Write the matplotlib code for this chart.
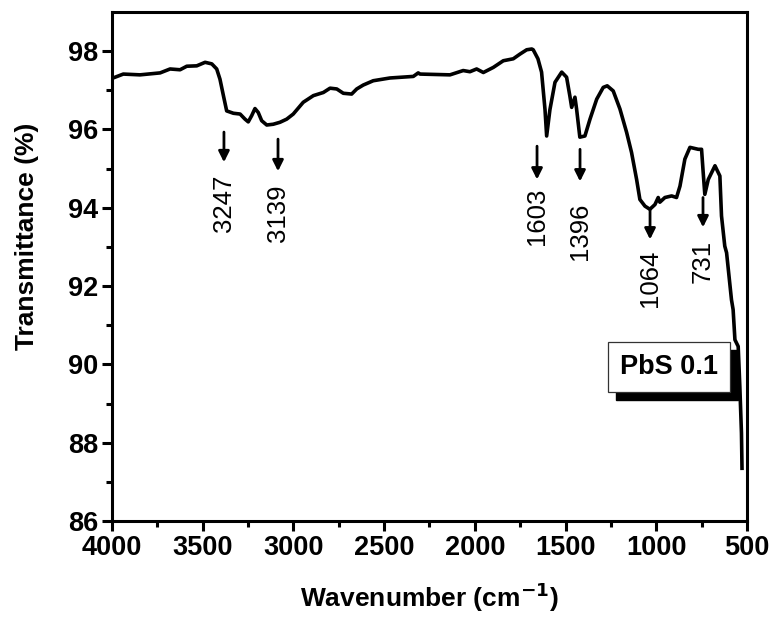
import matplotlib.pyplot as plt
from matplotlib.patches import Rectangle

plt.rcParams["font.family"] = ["Liberation Sans", "DejaVu Sans"]

# FTIR spectrum of PbS 0.1 sample, read as (wavenumber, transmittance) pairs
wavenumber = [
    4000, 3983, 3938, 3846, 3735, 3680, 3625, 3588, 3533, 3487, 3450, 3423,
    3405, 3386, 3368, 3331, 3294, 3267, 3249, 3230, 3212, 3194, 3175, 3147,
    3111, 3074, 3037, 3001, 2946, 2890, 2835, 2798, 2761, 2725, 2679, 2651,
    2615, 2560, 2468, 2339, 2312, 2302, 2137, 2064, 2027, 1990, 1953, 1898,
    1843, 1788, 1751, 1714, 1686, 1678, 1652, 1632, 1613, 1604, 1586, 1558,
    1521, 1494, 1476, 1466, 1448, 1439, 1421, 1393, 1365, 1328, 1292, 1270,
    1237, 1200, 1163, 1136, 1108, 1090, 1062, 1035, 1007, 989, 980, 952,
    915, 888, 869, 842, 814, 768, 750, 741, 732, 713, 676, 649,
    640, 622, 612, 585, 576, 566, 548, 539, 530, 527,
]
transmittance = [
    97.30, 97.33, 97.41, 97.39, 97.44, 97.54, 97.52, 97.61, 97.62, 97.71, 97.67, 97.54,
    97.28, 96.86, 96.47, 96.41, 96.39, 96.26, 96.19, 96.35, 96.53, 96.43, 96.22, 96.11,
    96.13, 96.18, 96.26, 96.39, 96.69, 96.86, 96.94, 97.05, 97.03, 96.92, 96.90, 97.03,
    97.13, 97.24, 97.31, 97.35, 97.44, 97.41, 97.39, 97.50, 97.47, 97.54, 97.45, 97.58,
    97.75, 97.80, 97.92, 98.03, 98.05, 98.03, 97.80, 97.46, 96.50, 95.83, 96.50, 97.20,
    97.46, 97.33, 96.85, 96.56, 96.82, 96.52, 95.80, 95.83, 96.26, 96.77, 97.07, 97.11,
    96.98, 96.52, 95.92, 95.41, 94.72, 94.21, 94.04, 93.96, 94.08, 94.26, 94.14, 94.26,
    94.30, 94.26, 94.55, 95.24, 95.54, 95.49, 95.49, 94.90, 94.34, 94.72, 95.07, 94.81,
    93.79, 93.02, 92.85, 91.65, 91.40, 90.63, 90.46, 89.44, 88.25, 87.35,
]

# peak labels and where their arrows sit (x, arrow tail, arrow head, text top)
peak_labels = ["3247", "3139", "1603", "1396", "1064", "731"]
arrow_x = [3383, 3085, 1657, 1420, 1034, 742]
arrow_tail = [95.93, 95.75, 95.57, 95.49, 93.96, 94.26]
arrow_head = [95.16, 94.93, 94.72, 94.67, 93.19, 93.50]
label_top = [94.85, 94.60, 94.52, 94.14, 92.93, 93.19]

fig = plt.figure(figsize=(7.7, 6.19), dpi=100)
ax = fig.add_axes([0.1455, 0.158, 0.8245, 0.823])

ax.plot(wavenumber, transmittance, color="black", linewidth=2.6, zorder=3)

for lab, x, y0, y1, yt in zip(peak_labels, arrow_x, arrow_tail, arrow_head, label_top):
    ax.annotate(
        "",
        xy=(x, y1),
        xytext=(x, y0),
        arrowprops={
            "arrowstyle": "-|>",
            "color": "black",
            "lw": 2.0,
            "mutation_scale": 16,
            "shrinkA": 0,
            "shrinkB": 0,
        },
        zorder=4,
    )
    ax.text(x, yt, lab, rotation=90, ha="center", va="top", fontsize=18.5)

# sample tag with a drop shadow
bx, by, bw, bh = 0.781, 0.253, 0.192, 0.099
ax.add_patch(Rectangle((bx + 0.0126, by - 0.0157), bw, bh, transform=ax.transAxes,
                       facecolor="black", edgecolor="black", zorder=5))
ax.add_patch(Rectangle((bx, by), bw, bh, transform=ax.transAxes,
                       facecolor="white", edgecolor="#333333", linewidth=0.9, zorder=6))
ax.text(bx + bw / 2, by + bh / 2, "PbS 0.1", transform=ax.transAxes, ha="center",
        va="center", fontsize=19.5, fontweight="bold", zorder=7)

ax.set_xlim(4000, 500)
ax.set_ylim(86, 99)
ax.set_xticks([4000, 3500, 3000, 2500, 2000, 1500, 1000, 500])
ax.set_xticks([3750, 3250, 2750, 2250, 1750, 1250, 750], minor=True)
ax.set_yticks([86, 88, 90, 92, 94, 96, 98])
ax.set_yticks([87, 89, 91, 93, 95, 97], minor=True)

ax.tick_params(which="major", direction="out", length=7, width=2.2, labelsize=19.5, pad=3)
ax.tick_params(which="minor", direction="out", length=4, width=2.2)
for lbl in ax.get_xticklabels() + ax.get_yticklabels():
    lbl.set_fontweight("bold")
for side in ["left", "bottom", "right", "top"]:
    ax.spines[side].set_linewidth(2.2)

ax.set_xlabel("Wavenumber (cm$^{\\mathbf{-1}}$)", fontsize=19, fontweight="bold", labelpad=14)
ax.set_ylabel("Transmittance (%)", fontsize=19, fontweight="bold", labelpad=12)
ax.yaxis.set_label_coords(-0.115, 0.56)

fig.savefig("out.png", dpi=100)
